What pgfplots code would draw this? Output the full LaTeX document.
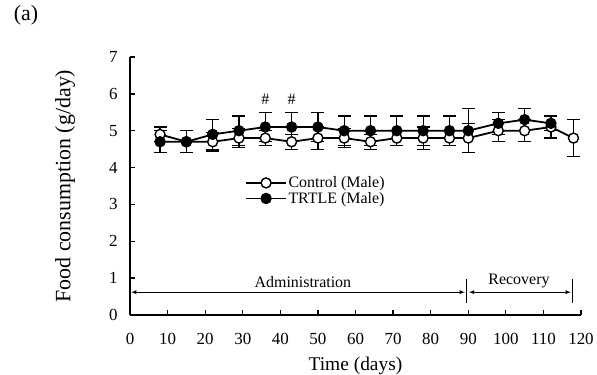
\documentclass[border=0pt]{standalone}
\usepackage{pgfplots}
\pgfplotsset{compat=1.18}
\usepackage{fontspec}
\setmainfont{Liberation Serif}
\begin{document}
\begin{tikzpicture}
\useasboundingbox (-130bp,-60bp) rectangle (467bp,315bp);
\begin{axis}[
 at={(0,0)}, anchor=south west,
 scale only axis, width=451bp, height=258bp,
 xmin=0, xmax=120, ymin=0, ymax=7,
 axis lines=left, axis line style={-, line width=1.3bp},
 xtick={0,10,...,120}, ytick={0,1,...,7},
 tick align=inside, major tick length=5bp, tick style={line width=1.3bp, black},
 /pgf/number format/assume math mode=true,
 tick label style={font=\fontsize{17}{20}\selectfont},
 xticklabel style={yshift=-15bp}, yticklabel style={xshift=-9bp},
 xlabel={Time (days)}, ylabel={Food consumption (g/day)},
 every axis x label/.style={at={(axis description cs:0.5,-0.196)},anchor=center,font=\fontsize{19.5}{22}\selectfont},
 every axis y label/.style={at={(axis description cs:-0.144,0.5)},anchor=center,rotate=90,font=\fontsize{22}{24}\selectfont},
 clip=false,
 legend style={draw=none, fill=none, at={(axis cs:30.6,3.8)}, anchor=north west,
   font=\fontsize{16}{18}\selectfont, row sep=0pt, inner sep=0pt,
   nodes={inner sep=1.5bp}},
 legend cell align=left,
 legend image code/.code={\draw[mark repeat=2,mark phase=2] plot coordinates {(0bp,0bp) (20bp,0bp) (40bp,0bp)};},
 error bars/error bar style={line width=1.2bp, black},
 error bars/error mark options={rotate=90, mark size=6.5bp, line width=1.2bp, black},
]
\addplot[black, line width=1.8bp, mark=*, mark size=5bp, mark options={fill=white, draw=black, line width=1.4bp},
  error bars/.cd, y dir=both, y explicit]
 coordinates {
 (8,4.9)+-(0,0.2)
 (15,4.7)+-(0,0.3)
 (22,4.7)+-(0,0.25)
 (29,4.8)+-(0,0.25)
 (36,4.8)+-(0,0.2)
 (43,4.7)+-(0,0.2)
 (50,4.8)+-(0,0.3)
 (57,4.8)+-(0,0.25)
 (64,4.7)+-(0,0.2)
 (71,4.8)+-(0,0.2)
 (78,4.8)+-(0,0.3)
 (85,4.8)+-(0,0.2)
 (90,4.8)+-(0,0.4)
 (98,5.0)+-(0,0.3)
 (105,5.0)+-(0,0.3)
 (112,5.1)+-(0,0.3)
 (118,4.8)+-(0,0.5)
 };
\addlegendentry{Control (Male)}
\addplot[black, line width=1.8bp, mark=*, mark size=5bp, mark options={fill=black, draw=black, line width=1.4bp},
  error bars/.cd, y dir=both, y explicit]
 coordinates {
 (8,4.7)+-(0,0.3)
 (15,4.7)+-(0,0.3)
 (22,4.9)+-(0,0.4)
 (29,5.0)+-(0,0.4)
 (36,5.1)+-(0,0.4)
 (43,5.1)+-(0,0.4)
 (50,5.1)+-(0,0.4)
 (57,5.0)+-(0,0.4)
 (64,5.0)+-(0,0.4)
 (71,5.0)+-(0,0.4)
 (78,5.0)+-(0,0.4)
 (85,5.0)+-(0,0.4)
 (90,5.0)+-(0,0.6)
 (98,5.2)+-(0,0.3)
 (105,5.3)+-(0,0.3)
 (112,5.2)+-(0,0.2)
 };
\addlegendentry{TRTLE (Male)}
\node[font=\fontsize{16}{18}\selectfont] at (axis cs:36,5.85) {\#};
\node[font=\fontsize{16}{18}\selectfont] at (axis cs:43,5.85) {\#};
\draw[-latex, line width=0.8bp] (axis cs:45,0.62) -- (axis cs:0.3,0.62);
\draw[-latex, line width=0.8bp] (axis cs:45,0.62) -- (axis cs:89.1,0.62);
\draw[line width=0.8bp] (axis cs:89.6,0.33) -- (axis cs:89.6,0.98);
\draw[latex-latex, line width=0.8bp] (axis cs:90.2,0.62) -- (axis cs:117.3,0.62);
\draw[line width=0.8bp] (axis cs:117.7,0.33) -- (axis cs:117.7,0.98);
\node[font=\fontsize{16}{18}\selectfont] at (axis cs:46,0.9) {Administration};
\node[font=\fontsize{16}{18}\selectfont] at (axis cs:103.5,0.93) {Recovery};
\end{axis}
\node[font=\fontsize{22}{26}\selectfont] at (-104bp,300bp) {(a)};
\end{tikzpicture}
\end{document}
